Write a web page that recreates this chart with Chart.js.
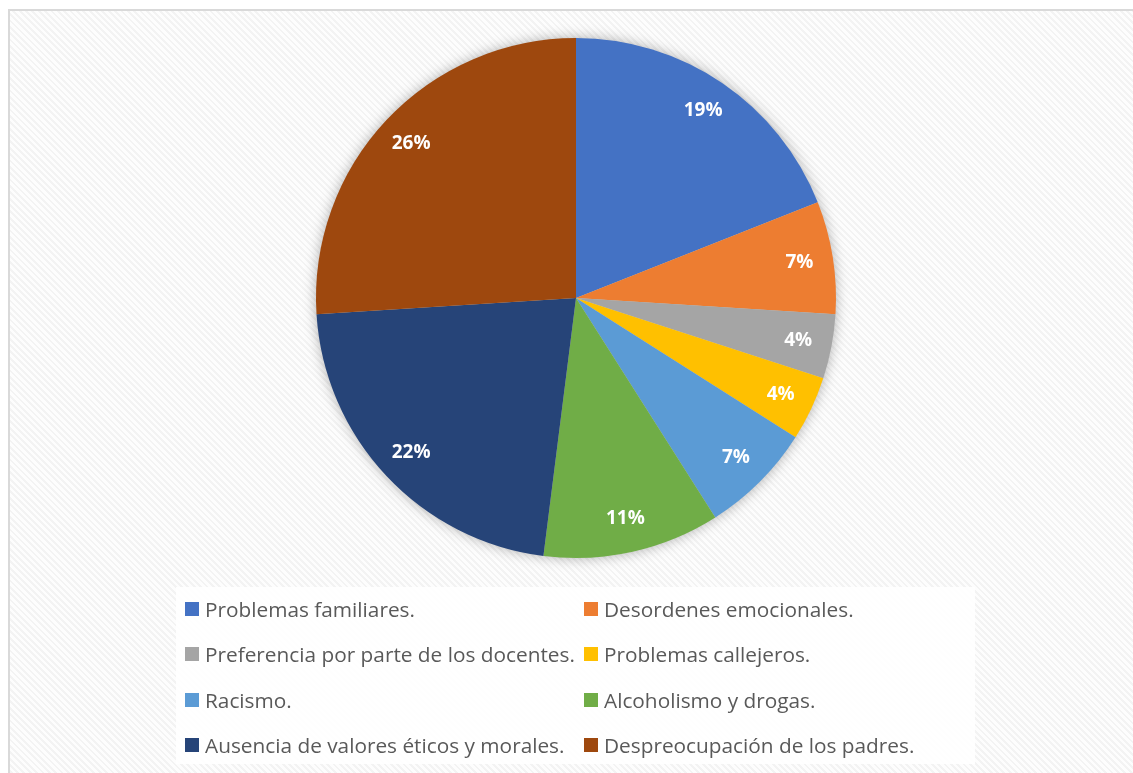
<!DOCTYPE html>
<html>
<head>
<meta charset="utf-8">
<script src="https://cdn.jsdelivr.net/npm/chart.js@4.4.0/dist/chart.umd.min.js"></script>
<style>
  html, body { margin: 0; padding: 0; background: #fff; }
  #page {
    position: relative; width: 1133px; height: 773px; overflow: hidden;
    background: #fff;
  }
  #frame {
    position: absolute; left: 8px; top: 9px; width: 1200px; height: 800px;
    border: 2px solid #d9d9d9;
    background: repeating-linear-gradient(45deg, #f3f3f3 0px, #f3f3f3 2px, #fdfdfd 2px, #fdfdfd 4.5px);
  }
  #chart { position: absolute; left: 0; top: 0; }
  #legend {
    position: absolute; left: 176px; top: 587px; width: 799px; height: 177px;
    background: rgba(255,255,255,0.88);
    font-family: "Open Sans", sans-serif; font-size: 20.8px; color: #595959;
  }
  .item { position: absolute; height: 24px; display: flex; align-items: center; white-space: nowrap; }
  .item span.box { display: inline-block; width: 14px; height: 14px; margin-right: 6px; flex: none; }
</style>
</head>
<body>
<div id="page">
  <div id="frame"></div>
  <canvas id="chart" width="1133" height="773"></canvas>
  <div id="legend"></div>
</div>
<script>
// Data
const categories = [
  "Problemas familiares.",
  "Desordenes emocionales.",
  "Preferencia por parte de los docentes.",
  "Problemas callejeros.",
  "Racismo.",
  "Alcoholismo y drogas.",
  "Ausencia de valores éticos y morales.",
  "Despreocupación de los padres."
];
const percentValues = [19, 7, 4, 4, 7, 11, 22, 26];
const sliceColors = ["#4472C4", "#ED7D31", "#A5A5A5", "#FFC000", "#5B9BD5", "#70AD47", "#264478", "#9E480E"];

// soft shadow behind the pie
const pieShadow = {
  id: "pieShadow",
  beforeDatasetsDraw(chart) {
    const arc = chart.getDatasetMeta(0).data[0];
    if (!arc) return;
    const ctx = chart.ctx;
    ctx.save();
    ctx.shadowColor = "rgba(0,0,0,0.35)";
    ctx.shadowBlur = 14;
    ctx.fillStyle = "#ccc";
    ctx.beginPath();
    ctx.arc(arc.x, arc.y, arc.outerRadius - 1, 0, Math.PI * 2);
    ctx.fill();
    ctx.restore();
  }
};

// percent labels inside slices
const sliceLabels = {
  id: "sliceLabels",
  afterDatasetsDraw(chart) {
    const ctx = chart.ctx;
    const meta = chart.getDatasetMeta(0);
    ctx.save();
    ctx.fillStyle = "#fff";
    ctx.font = "bold 19px 'Open Sans', sans-serif";
    ctx.textAlign = "center";
    ctx.textBaseline = "middle";
    meta.data.forEach((arc, i) => {
      const mid = (arc.startAngle + arc.endAngle) / 2;
      const r = arc.outerRadius * 0.87;
      ctx.fillText(percentValues[i] + "%", arc.x + Math.cos(mid) * r, arc.y + Math.sin(mid) * r);
    });
    ctx.restore();
  }
};

new Chart(document.getElementById("chart"), {
  type: "pie",
  data: {
    labels: categories,
    datasets: [{
      data: percentValues,
      backgroundColor: sliceColors,
      borderWidth: 0,
      hoverOffset: 0
    }]
  },
  options: {
    responsive: false,
    animation: false,
    layout: { padding: { left: 316, right: 297, top: 38, bottom: 215 } },
    plugins: { legend: { display: false }, tooltip: { enabled: false } }
  },
  plugins: [pieShadow, sliceLabels]
});

// legend, two columns
const legendDiv = document.getElementById("legend");
categories.forEach((name, i) => {
  const el = document.createElement("div");
  el.className = "item";
  el.style.left = (i % 2 === 0 ? 9 : 408) + "px";
  el.style.top = (10 + Math.floor(i / 2) * 45.3) + "px";
  el.innerHTML = `<span class="box" style="background:${sliceColors[i]}"></span>${name}`;
  legendDiv.appendChild(el);
});
</script>
</body>
</html>
